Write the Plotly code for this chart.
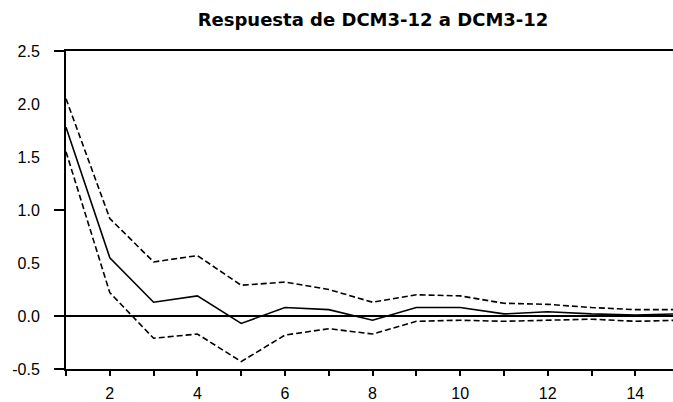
import plotly.graph_objects as go

# impulse response data (periods 1..15)
periods = list(range(1, 16))
response = [1.78, 0.55, 0.13, 0.19, -0.07, 0.08, 0.06, -0.04, 0.08, 0.08,
            0.02, 0.04, 0.02, 0.01, 0.02]
upper = [2.05, 0.92, 0.51, 0.57, 0.29, 0.32, 0.25, 0.13, 0.20, 0.19,
         0.12, 0.11, 0.08, 0.06, 0.06]
lower = [1.55, 0.22, -0.21, -0.17, -0.43, -0.18, -0.12, -0.17, -0.05, -0.04,
         -0.05, -0.04, -0.03, -0.05, -0.04]

x_labels = [2, 4, 6, 8, 10, 12, 14]
y_labels = [-0.5, 0.0, 0.5, 1.0, 1.5, 2.0, 2.5]

tick_font = "Liberation Sans, Arial"
title_font = "DejaVu Sans"

fig = go.Figure()

# bands first, then the response on top
fig.add_trace(go.Scatter(x = periods, y = upper, mode = 'lines',
                         line = dict(color = 'black', width = 1.6, dash = '6px,3px'),
                         showlegend = False))
fig.add_trace(go.Scatter(x = periods, y = lower, mode = 'lines',
                         line = dict(color = 'black', width = 1.6, dash = '6px,3px'),
                         showlegend = False))
fig.add_trace(go.Scatter(x = periods, y = response, mode = 'lines',
                         line = dict(color = 'black', width = 1.6),
                         showlegend = False))

fig.update_layout(
    width = 673, height = 402,
    margin = dict(l = 66, r = 0, t = 51, b = 33, autoexpand = False),
    paper_bgcolor = 'white',
    plot_bgcolor = 'white',
    title = dict(text = "<b>Respuesta de DCM3-12 a DCM3-12</b>",
                 x = 373 / 673, xanchor = 'center',
                 y = 1 - 20 / 402, yanchor = 'middle',
                 font = dict(family = title_font, size = 18, color = 'black')),
    font = dict(family = tick_font, size = 16, color = 'black'),
)

fig.update_xaxes(
    range = [1, 14.86], automargin = False,
    showgrid = False, zeroline = False,
    showline = True, linecolor = 'black', linewidth = 2, mirror = True,
    tickvals = x_labels, ticks = 'outside', ticklen = 5, tickwidth = 2,
    tickcolor = 'black',
    minor = dict(tick0 = 1, dtick = 1, ticks = 'outside', ticklen = 5,
                 tickwidth = 2, tickcolor = 'black', showgrid = False),
    ticklabelstandoff = 4,
)

fig.update_yaxes(
    range = [-0.5, 2.5], automargin = False,
    showgrid = False,
    zeroline = True, zerolinecolor = 'black', zerolinewidth = 2,
    showline = True, linecolor = 'black', linewidth = 2, mirror = False,
    tickvals = y_labels, ticktext = ["%.1f" % v for v in y_labels],
    ticks = '',
    minor = dict(tickvals = [-0.5, 0.0, 1.0, 2.5], ticks = 'outside',
                 ticklen = 10, tickwidth = 2, tickcolor = 'black',
                 showgrid = False),
    ticklabelstandoff = 21,
)

# page has a default body margin; drop it so the figure fills the window
fig.write_html("out.html", config = dict(displayModeBar = False),
               post_script = "document.body.style.margin = '0';")
